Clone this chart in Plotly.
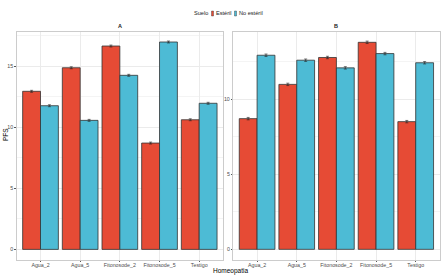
import plotly.graph_objects as go
from plotly.subplots import make_subplots

categories = ["Agua_2", "Agua_5", "Fitonosode_2", "Fitonosode_5", "Testigo"]
series_names = ["Estéril", "No estéril"]
panels = ["A", "B"]

a_esteril = [12.95, 14.88, 16.66, 8.71, 10.62]
a_no_esteril = [11.77, 10.57, 14.26, 16.99, 11.97]
b_esteril = [8.70, 10.98, 12.77, 13.78, 8.50]
b_no_esteril = [12.92, 12.59, 12.08, 13.03, 12.42]
a_err_esteril = [0.08, 0.08, 0.08, 0.08, 0.08]
a_err_no = [0.08, 0.08, 0.08, 0.08, 0.08]
b_err_esteril = [0.08, 0.08, 0.08, 0.08, 0.08]
b_err_no = [0.08, 0.08, 0.08, 0.08, 0.08]

colors = ["#E64B35", "#4DBBD5"]
FONT = "Liberation Sans, Arial, sans-serif"

fig = make_subplots(rows=1, cols=2)

data = [
    ([a_esteril, a_no_esteril], [a_err_esteril, a_err_no]),
    ([b_esteril, b_no_esteril], [b_err_esteril, b_err_no]),
]
for p, (vals, errs) in enumerate(data):
    for s in range(2):
        fig.add_trace(go.Bar(
            x=categories, y=vals[s], name=series_names[s],
            marker=dict(color=colors[s], line=dict(color="#333333", width=0.8)),
            error_y=dict(type="data", array=errs[s], color="#222222", thickness=0.6, width=1.5),
            showlegend=False,
        ), row=1, col=p + 1)

fig.update_layout(
    width=442, height=276,
    margin=dict(l=0, r=0, t=0, b=0),
    paper_bgcolor="white", plot_bgcolor="white",
    barmode="group", bargap=0.1, bargroupgap=0,
    font=dict(family=FONT, size=5.3, color="#4d4d4d"),
)

xdom = [[16.7 / 442, 223 / 442], [233.3 / 442, 439.5 / 442]]
ydom = [(276 - 260) / 276, (276 - 31.5) / 276]
yranges = [[-0.87, 17.85], [-0.71, 14.5]]
for i in range(2):
    xa = "xaxis" if i == 0 else "xaxis2"
    ya = "yaxis" if i == 0 else "yaxis2"
    fig.layout[xa].update(
        domain=xdom[i], range=[-0.6, 4.6], showline=True, mirror=True,
        linecolor="#cccccc", linewidth=0.8, showgrid=True, gridcolor="#ebebeb",
        gridwidth=0.6, ticks="outside", ticklen=1.5, tickcolor="#555555",
        ticklabelstandoff=-2,
        tickfont=dict(size=5.3, color="#4d4d4d"), zeroline=False,
    )
    fig.layout[ya].update(
        domain=ydom, range=yranges[i], showline=True, mirror=True,
        linecolor="#cccccc", linewidth=0.8, showgrid=True, gridcolor="#ebebeb",
        gridwidth=0.6, tickvals=[0, 5, 10, 15], ticks="outside", ticklen=1.5,
        tickcolor="#555555", tickfont=dict(size=5.3, color="#4d4d4d"), zeroline=False,
        minor=dict(tickvals=[2.5, 7.5, 12.5, 17.5], showgrid=True, gridcolor="#f4f4f4", gridwidth=0.4),
    )

def ann(text, x, y, size=5.6, color="#1a1a1a", xanchor="center", angle=0):
    fig.add_annotation(text=text, x=x / 442, y=(276 - y) / 276, xref="paper", yref="paper",
                       xanchor=xanchor, yanchor="middle", showarrow=False, textangle=angle,
                       borderpad=0, font=dict(size=size, color=color, family=FONT))

# strip labels
for i in range(2):
    ann("<b>" + panels[i] + "</b>", (xdom[i][0] + xdom[i][1]) / 2 * 442, 26.5, size=5.5, color="#1a1a1a")

# axis titles
ann("Homeopatia", 230, 270.5, size=6.5, color="black")
ann("PFS", 5, 135, size=6.5, color="black", angle=-90)

# legend
ly = 13.5
ann("Suelo", 209, ly, xanchor="right")
keys_x = [211.5, 234.5]
for s in range(2):
    fig.add_shape(type="rect", xref="paper", yref="paper",
                  x0=keys_x[s] / 442, x1=(keys_x[s] + 2) / 442,
                  y0=(276 - 16) / 276, y1=(276 - 11) / 276,
                  fillcolor=colors[s], line=dict(color="#333333", width=0.4))
    ann(series_names[s], keys_x[s] + 3.5, ly, xanchor="left")

fig.write_html("out.html", config={"displayModeBar": False},
               post_script="document.body.style.margin='0';document.body.style.overflow='hidden';")
